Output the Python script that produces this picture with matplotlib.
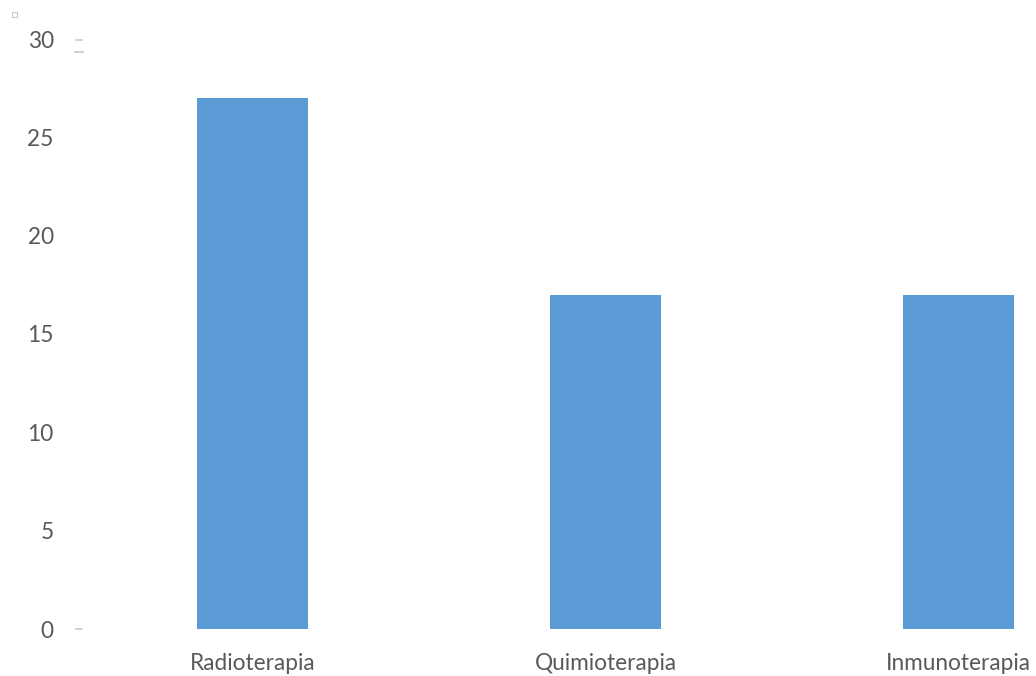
import matplotlib
matplotlib.use("Agg")
import matplotlib.pyplot as plt
from matplotlib.patches import Rectangle
from matplotlib.lines import Line2D

categories = ["Radioterapia", "Quimioterapia", "Inmunoterapia"]
values = [27, 17, 17]
yticks = [0, 5, 10, 15, 20, 25, 30]

plt.rcParams["font.family"] = ["Lato", "DejaVu Sans"]

fig = plt.figure(figsize=(10.36, 6.76), dpi=100)
# axes extend past the right edge so the last category is cut off
ax = fig.add_axes([76 / 1036, 1 - 629 / 676, 1059 / 1036, 590 / 676])

x = range(len(categories))
ax.bar(x, values, width=0.314, color="#5B9BD5")
ax.set_xlim(-0.5, 2.5)
ax.set_ylim(0, 30)
ax.set_yticks(yticks)
ax.set_xticks(list(x))
ax.set_xticklabels(categories)
for s in ax.spines.values():
    s.set_visible(False)
ax.tick_params(axis="y", length=0, pad=16, labelsize=16.3, labelcolor="#595959")
ax.tick_params(axis="x", length=0, pad=17, labelsize=16.3, labelcolor="#595959")

# small grey tick marks near the axis
tick_col = "#c8c8c8"
for ypix, x0, x1 in [(629, 76, 82), (40, 76, 82), (52, 75, 83)]:
    fig.add_artist(Line2D([x0 / 1036, x1 / 1036], [1 - ypix / 676] * 2,
                          color=tick_col, lw=1.2))
fig.add_artist(Rectangle((12 / 1036, 1 - 17 / 676), 5 / 1036, 5 / 676,
                         fill=False, edgecolor="#c8c8c8", lw=0.8))

fig.savefig("out.png", dpi=100)
